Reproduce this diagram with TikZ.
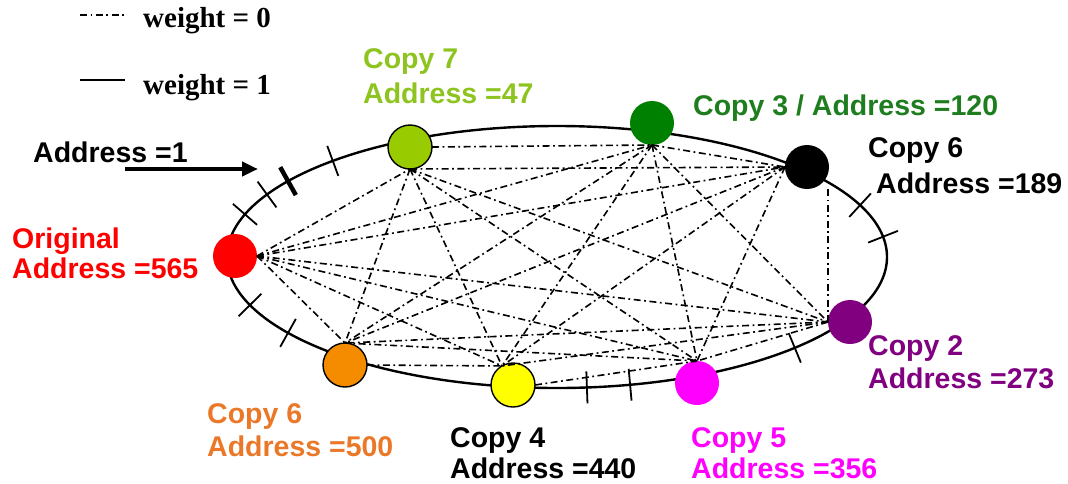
\documentclass[tikz,border=0pt]{standalone}
\usepackage{fontspec}
\setmainfont{Liberation Serif}
\setsansfont{Liberation Sans}
\usetikzlibrary{arrows.meta,calc}
\definecolor{cRed}{RGB}{255,0,0}
\definecolor{cLime}{RGB}{153,204,0}
\definecolor{cLimeT}{RGB}{141,196,31}
\definecolor{cGreen}{RGB}{0,128,0}
\definecolor{cGreenT}{RGB}{30,125,30}
\definecolor{cPurple}{RGB}{128,0,128}
\definecolor{cMag}{RGB}{255,0,255}
\definecolor{cYel}{RGB}{255,255,0}
\definecolor{cOrg}{RGB}{245,140,0}
\definecolor{cOrgT}{RGB}{235,120,40}
\begin{document}
\begin{tikzpicture}[x=1pt,y=-1pt,
  dot/.style={circle,minimum size=44pt,inner sep=0pt,outer sep=0pt},
  ringed/.style={draw=black,line width=1.4pt},
  lbl/.style={font=\sffamily\bfseries\fontsize{28.5}{31}\selectfont,anchor=base west,inner sep=0pt},
  leg/.style={font=\rmfamily\bfseries\fontsize{29}{31}\selectfont,anchor=base west,inner sep=0pt},
  link/.style={line width=1.6pt,dash pattern=on 7pt off 3.5pt on 1.8pt off 3.5pt},
  ring/.style={line width=2.4pt}
]
\useasboundingbox (0,0) rectangle (1068,483);

% ring
\draw[ring] (557,257) ellipse [x radius=330, y radius=131];

% ticks on the ring
\foreach \t/\lw in {227.2/1.8,215.4/4.5,208.5/1.8,199/1.8,158.5/1.8,144.6/1.8,84.8/1.8,77.2/1.8,43.9/1.8,-8.9/1.8,-23.3/1.8}{
  \pgfmathsetmacro\px{557+330*cos(\t)}
  \pgfmathsetmacro\py{257+131*sin(\t)}
  \pgfmathsetmacro\nx{1.31*cos(\t)}
  \pgfmathsetmacro\ny{3.30*sin(\t)}
  \pgfmathsetmacro\nn{sqrt(\nx*\nx+\ny*\ny)}
  \draw[line width=\lw pt] ({\px-16*\nx/\nn},{\py-16*\ny/\nn}) -- ({\px+16*\nx/\nn},{\py+16*\ny/\nn});
}

% nodes
\node[dot,fill=cRed] (red) at (235,256) {};
\node[dot,fill=cLime,ringed] (lime) at (410,147) {};
\node[dot,fill=cGreen] (green) at (652,123) {};
\node[dot,fill=black] (black) at (807,167) {};
\node[dot,fill=cPurple] (purple) at (850,322) {};
\node[dot,fill=cMag] (magenta) at (697,383) {};
\node[dot,fill=cYel,ringed] (yellow) at (513,385) {};
\node[dot,fill=cOrg,ringed] (orange) at (345,365) {};

% links
\foreach \a/\b in {
  red.east/lime.south, red.east/green.south, red.east/black.west, red.east/purple.west,
  red.east/magenta.north, red.east/yellow.120, red.east/orange.north,
  lime.east/green.south, lime.south/black.west, lime.south/purple.west,
  lime.south/magenta.north, lime.south/yellow.120, lime.south/orange.north,
  green.south/black.west, green.south/purple.west, green.south/magenta.north,
  green.south/yellow.120, green.south/orange.north,
  black.west/magenta.north, black.west/yellow.120, black.west/orange.north,
  purple.west/magenta.north, purple.west/yellow.120, purple.west/orange.north,
  yellow.east/magenta.north, magenta.north/orange.north,
  orange.east/yellow.120}
  \draw[link] (\a) -- (\b);
\draw[link] (black.south -| purple.west) -- (purple.west);

% legend
\coordinate (l0a) at (80,15);
\coordinate (l0b) at (125,15);
\coordinate (l1a) at (80,80);
\coordinate (l1b) at (125,80);
\draw[link] (l0a) -- (l0b);
\draw[line width=2pt] (l1a) -- (l1b);
\node[leg] (w0) at (143,27) {weight = 0};
\node[leg] (w1) at (143,94) {weight = 1};

% start arrow
\node[lbl] (a1) at (33,162) {Address =1};
\coordinate (aS) at (125,169);
\coordinate (aE) at (258,169);
\draw[line width=4pt,-{Triangle[length=16pt,width=14pt]}] (aS) -- (aE);

% labels
\node[lbl,text=cRed] (t1) at (12,248) {Original};
\node[lbl,text=cRed] (t2) at (12,278) {Address =565};
\node[lbl,text=cLimeT] (t3) at (363,68) {Copy 7};
\node[lbl,text=cLimeT] (t4) at (363,103) {Address =47};
\node[lbl,text=cGreenT] (t5) at (693,115) {Copy 3 / Address =120};
\node[lbl] (t6) at (868,157) {Copy 6};
\node[lbl] (t7) at (876,193) {Address =189};
\node[lbl,text=cPurple] (t8) at (868,355) {Copy 2};
\node[lbl,text=cPurple] (t9) at (868,388) {Address =273};
\node[lbl,text=cOrgT] (t10) at (207,423) {Copy 6};
\node[lbl,text=cOrgT] (t11) at (207,456) {Address =500};
\node[lbl] (t12) at (450,447) {Copy 4};
\node[lbl] (t13) at (450,478) {Address =440};
\node[lbl,text=cMag] (t14) at (691,447) {Copy 5};
\node[lbl,text=cMag] (t15) at (691,478) {Address =356};
\end{tikzpicture}
\end{document}
